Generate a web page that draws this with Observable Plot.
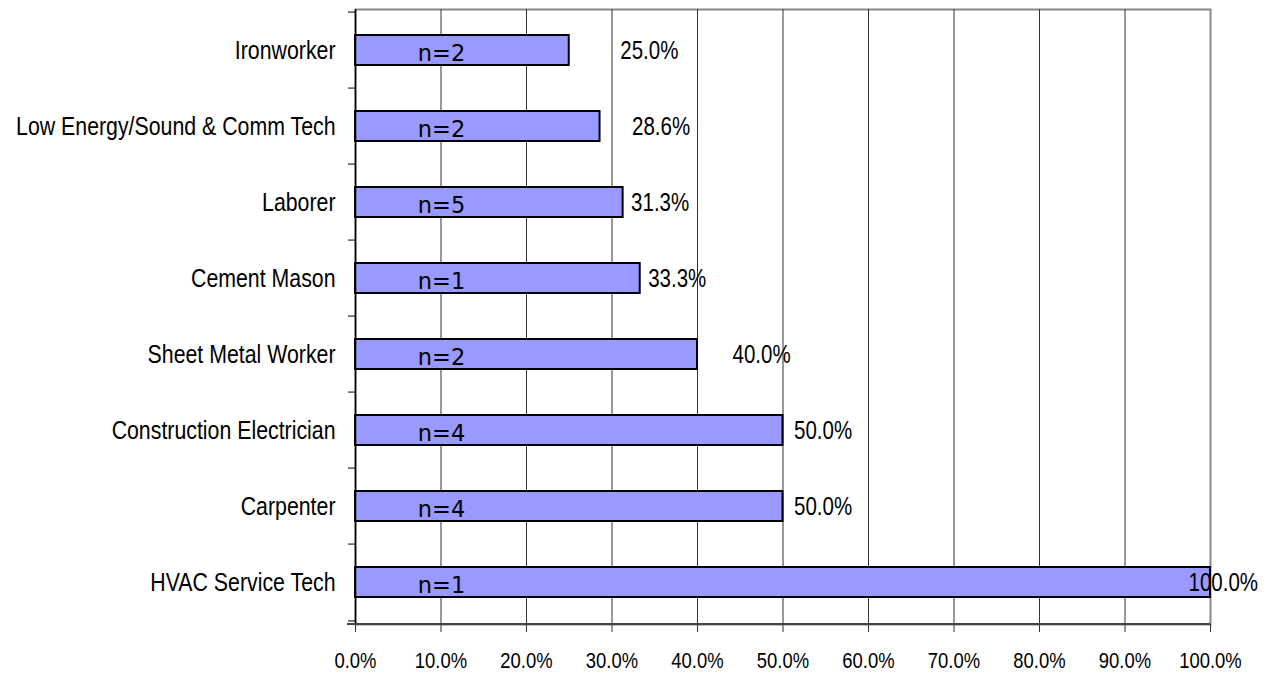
<!DOCTYPE html>
<html>
<head>
<meta charset="utf-8">
<script src="https://cdn.jsdelivr.net/npm/d3@7"></script>
<script src="https://cdn.jsdelivr.net/npm/@observablehq/plot@0.6"></script>
<style>
  html, body { margin: 0; padding: 0; background: #fff; }
  #chart svg { display: block; }
</style>
</head>
<body>
<div id="chart"></div>
<script>
// Share of respondents by trade, with sample size per trade
const trades = [
  "Ironworker",
  "Low Energy/Sound & Comm Tech",
  "Laborer",
  "Cement Mason",
  "Sheet Metal Worker",
  "Construction Electrician",
  "Carpenter",
  "HVAC Service Tech"
];
const shares = [0.25, 0.286, 0.313, 0.333, 0.40, 0.50, 0.50, 1.00];
const sampleSizes = [2, 2, 5, 1, 2, 4, 4, 1];
const xTicks = [0, 0.1, 0.2, 0.3, 0.4, 0.5, 0.6, 0.7, 0.8, 0.9, 1.0];

const rows = trades.map((trade, i) => ({ trade, share: shares[i], n: sampleSizes[i] }));

const width = 1270, height = 675;
const marginTop = 9, marginBottom = 51, marginLeft = 355, marginRight = 60;
const plotWidth = width - marginLeft - marginRight;
const step = (height - marginTop - marginBottom) / trades.length;
const font = "'Liberation Sans', Arial, sans-serif";
const squeeze = 0.82; // horizontal condensing of label text
const pct = d3.format(".1%");

// Horizontal nudge (px) of each value label from its bar end
const labelShift = [51, 32, 8, 8, 35, 11, 11, -22];

// Bottom axis line, running slightly past the left axis
const bottomLine = (index, scales, values, dims) => {
  const y = dims.height - dims.marginBottom;
  return d3.create("svg:line")
    .attr("x1", scales.x(0) - 8).attr("x2", scales.x(1))
    .attr("y1", y).attr("y2", y)
    .attr("stroke", "#444").attr("stroke-width", 2)
    .node();
};

const chart = Plot.plot({
  width, height, marginTop, marginBottom, marginLeft, marginRight,
  style: { fontFamily: font, background: "#fff", color: "#000" },
  x: { domain: [0, 1], ticks: xTicks, tickFormat: pct, label: null },
  y: { domain: trades, paddingInner: 0.6, paddingOuter: 0.3, label: null },
  marks: [
    // grey plot border (top and right edges remain visible)
    Plot.frame({ stroke: "#888", strokeWidth: 2 }),
    // vertical gridlines
    Plot.ruleX(xTicks.slice(1, -1), { stroke: "#333", strokeWidth: 1 }),
    // bars
    Plot.barX(rows, { y: "trade", x: "share", fill: "#9999ff", stroke: "#000", strokeWidth: 2 }),
    // category axis: labels at centres, ticks at band boundaries
    Plot.axisY({ tickSize: 0, tickPadding: 20, fontSize: 26, label: null }),
    Plot.axisY({ tickSize: 7, text: null, dy: -step / 2, label: null, stroke: "#000" }),
    Plot.axisY([trades[trades.length - 1]], { tickSize: 7, text: null, dy: step / 2, label: null, stroke: "#000" }),
    Plot.ruleX([0], { stroke: "#000", strokeWidth: 1.5 }),
    // value axis
    Plot.axisX({ ticks: xTicks, tickFormat: pct, tickSize: 8, tickPadding: 20, fontSize: 22.5, label: null, stroke: "#333" }),
    bottomLine,
    // sample size inside each bar
    Plot.text(rows, {
      y: "trade", frameAnchor: "left", dx: 86, dy: 3,
      text: d => `n=${d.n}`, textAnchor: "middle",
      fontFamily: "'DejaVu Sans', Verdana, sans-serif", fontSize: 22.5, fill: "#000",
      className: "n-label"
    }),
    // value label near each bar end
    Plot.text(rows, {
      y: "trade",
      x: d => d.share + labelShift[trades.indexOf(d.trade)] / plotWidth,
      text: d => pct(d.share),
      textAnchor: "start", fontSize: 25, fill: "#000"
    })
  ]
});

// Condense the Liberation Sans labels horizontally (n= labels keep their width)
d3.select(chart).selectAll("text").each(function () {
  if (this.closest(".n-label")) return;
  const t = this.getAttribute("transform") || "";
  this.setAttribute("transform", `${t} scale(${squeeze},1)`.trim());
});

document.getElementById("chart").appendChild(chart);
</script>
</body>
</html>
